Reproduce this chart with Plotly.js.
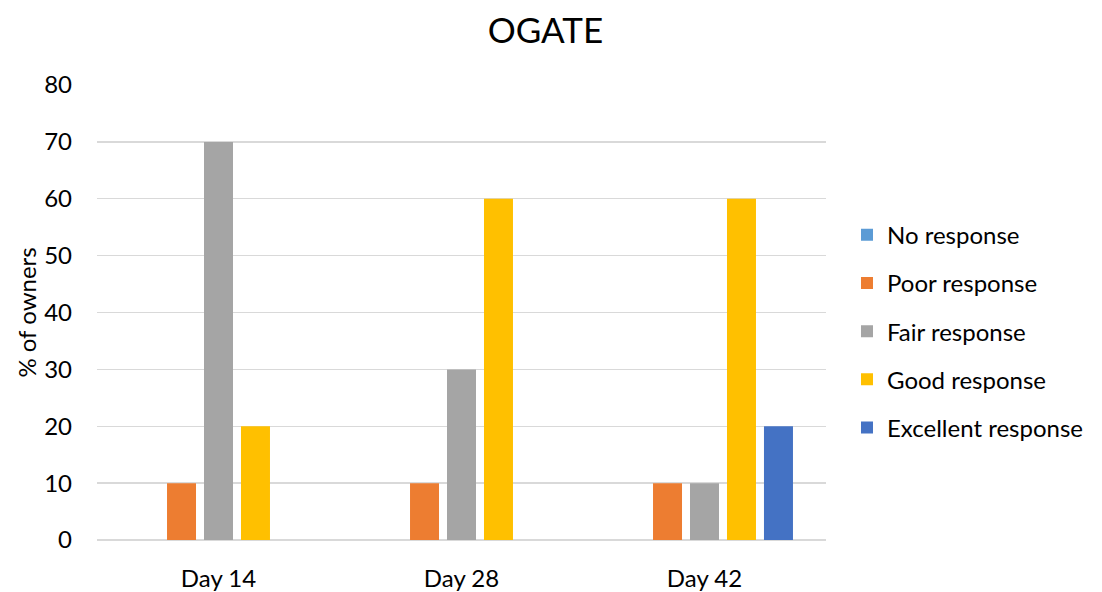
<!DOCTYPE html>
<html>
<head>
<meta charset="utf-8">
<script src="https://cdn.plot.ly/plotly-3.0.1.min.js"></script>
<style>html,body{margin:0;padding:0;background:#fff;}#chart{width:1102px;height:592px;}</style>
</head>
<body>
<div id="chart"></div>
<script>
const categories = ["Day 14", "Day 28", "Day 42"];
const seriesNames = ["No response", "Poor response", "Fair response", "Good response", "Excellent response"];
const noResponse = [0, 0, 0];
const poorResponse = [10, 10, 10];
const fairResponse = [70, 30, 10];
const goodResponse = [20, 60, 60];
const excellentResponse = [0, 0, 20];
const colors = ["#5B9BD5", "#ED7D31", "#A5A5A5", "#FFC000", "#4472C4"];
const yTicks = [0, 10, 20, 30, 40, 50, 60, 70, 80];

const values = [noResponse, poorResponse, fairResponse, goodResponse, excellentResponse];
const font = "Lato, 'Open Sans', sans-serif";

const traces = values.map((v, i) => ({
  type: "bar",
  name: seriesNames[i],
  x: categories,
  y: v,
  marker: {color: colors[i]},
  legendgroup: "g" + i,
  hoverinfo: "x+y+name"
}));

const layout = {
  width: 1102, height: 592,
  margin: {l: 97, r: 276, t: 85, b: 52},
  paper_bgcolor: "#fff", plot_bgcolor: "#fff",
  font: {family: font, color: "#000", size: 23},
  title: {text: "OGATE", font: {family: font, size: 35, color: "#000"},
          x: 0.495, xref: "container", y: 1 - 31/592, yref: "container", yanchor: "middle", xanchor: "center"},
  barmode: "group",
  bargap: 0.239,
  bargroupgap: 0.216,
  xaxis: {
    showgrid: false, zeroline: false, showline: false, ticks: "",
    ticklabelstandoff: 22,
    tickfont: {family: font, size: 24, color: "#000"}
  },
  yaxis: {
    range: [0, 80], tickvals: yTicks, ticktext: yTicks.map(String),
    showgrid: true, gridcolor: "#D9D9D9", gridwidth: 1.3,
    zeroline: true, zerolinecolor: "#D9D9D9", zerolinewidth: 1.3,
    showline: false, ticks: "",
    ticklabelstandoff: 24,
    tickfont: {family: font, size: 24, color: "#000"},
    title: {text: "% of owners", font: {family: font, size: 24, color: "#000"}, standoff: 0}
  },
  showlegend: true,
  legend: {
    x: 1.0288, xanchor: "left", y: 0.459, yanchor: "middle",
    traceorder: "grouped", tracegroupgap: 14,
    font: {family: font, size: 24, color: "#000"},
    bgcolor: "rgba(0,0,0,0)"
  }
};

Plotly.newPlot("chart", traces, layout, {displayModeBar: false, staticPlot: true});
</script>
</body>
</html>
